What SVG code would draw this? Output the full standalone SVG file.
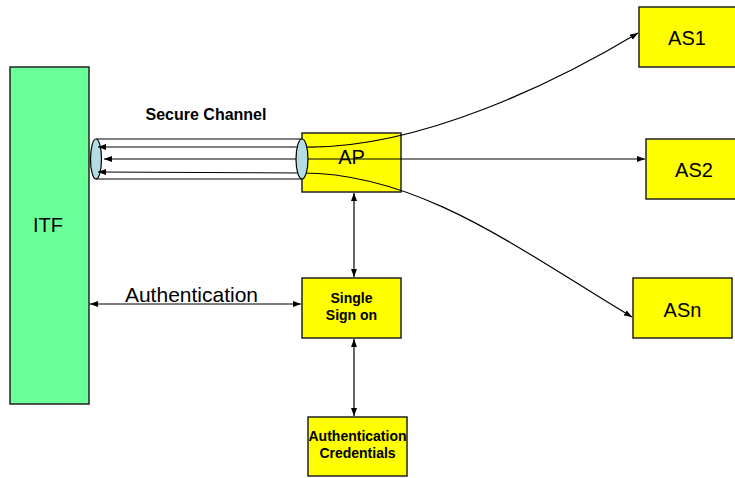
<svg xmlns="http://www.w3.org/2000/svg" width="735" height="478" viewBox="0 0 735 478">
<defs>
<marker id="ah" viewBox="0 0 8 6" refX="8" refY="3" markerWidth="8" markerHeight="6" markerUnits="userSpaceOnUse" orient="auto-start-reverse">
<path d="M0,0 L8,3 L0,6 z" fill="#000"/>
</marker>
<style>
.box{fill:#FFFF00;stroke:#222;stroke-width:1.5}
.itf{fill:#6BFF99;stroke:#222;stroke-width:1.5}
.tube{fill:#B4DCE4;stroke:#000;stroke-width:1.2}
.ln{fill:none;stroke:#000;stroke-width:1.2}
.c{fill:none;stroke:#000;stroke-width:1.2;marker-start:url(#ah);marker-end:url(#ah)}
.t{font-family:"Liberation Sans",Arial,sans-serif;fill:#000;text-anchor:middle}
.b{font-weight:bold}
</style>
</defs>
<rect width="735" height="478" fill="#fff"/>
<g id="ITF">
<rect class="itf" x="10" y="67" width="79" height="337"/>
<text class="t" x="48" y="232" font-size="20">ITF</text>
</g>
<g id="AP">
<rect class="box" x="302" y="133" width="99" height="59"/>
<text class="t" x="351.5" y="164" font-size="20">AP</text>
</g>
<g id="AS1">
<rect class="box" x="639" y="7" width="99" height="60"/>
<text class="t" x="687" y="45" font-size="20">AS1</text>
</g>
<g id="AS2">
<rect class="box" x="646" y="139" width="99" height="60"/>
<text class="t" x="694" y="177" font-size="20">AS2</text>
</g>
<g id="ASn">
<rect class="box" x="633" y="278" width="99" height="60"/>
<text class="t" x="682.5" y="317" font-size="20">ASn</text>
</g>
<g id="SSO">
<rect class="box" x="302" y="278" width="99" height="60"/>
<text class="t b" x="351.5" y="303" font-size="14">Single</text>
<text class="t b" x="351.5" y="320" font-size="14">Sign on</text>
</g>
<g id="AuthCred">
<rect class="box" x="308" y="417" width="99" height="59"/>
<text class="t b" x="357.5" y="441" font-size="14">Authentication</text>
<text class="t b" x="357.5" y="458" font-size="14">Credentials</text>
</g>
<g id="secure-channel">
<line class="ln" x1="96" y1="139" x2="302" y2="139"/>
<line class="ln" x1="96" y1="179" x2="302" y2="179"/>
<ellipse class="tube" cx="96" cy="159" rx="5.5" ry="20"/>
<text class="t b" x="206" y="120" font-size="16">Secure Channel</text>
</g>
<g id="connectors">
<path class="c" d="M98,147 L302,147 C420,150 560,80 638,33"/>
<path class="c" d="M104,159 L645,159"/>
<path class="c" d="M98,172 L302,173 C420,173 520,250 632,317"/>
<path class="c" d="M354,193 L354,277"/>
<path class="c" d="M354,339 L354,416"/>
<path class="c" d="M90,304 L301,304"/>
<text class="t" x="191.5" y="302" font-size="21">Authentication</text>
</g>
<g id="secure-channel-end">
<ellipse class="tube" cx="302" cy="159" rx="6" ry="20"/>
</g>
</svg>
